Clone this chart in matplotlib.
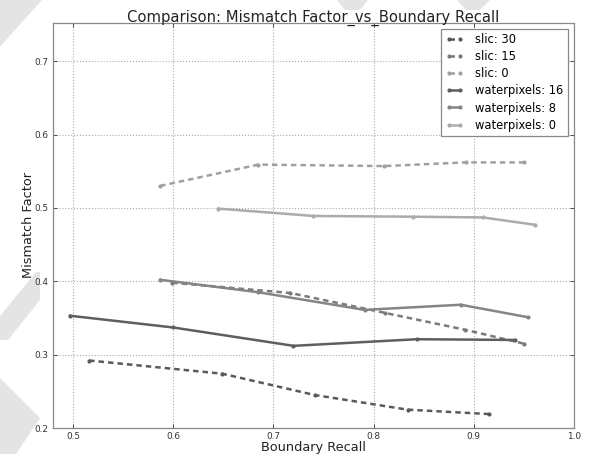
import matplotlib
matplotlib.use("Agg")
import matplotlib.pyplot as plt
from matplotlib.patches import Polygon

# Data
slic30_x = [0.516, 0.649, 0.741, 0.834, 0.915]
slic30_y = [0.292, 0.274, 0.245, 0.225, 0.219]
slic15_x = [0.599, 0.717, 0.811, 0.891, 0.950]
slic15_y = [0.398, 0.384, 0.357, 0.334, 0.315]
slic0_x = [0.587, 0.685, 0.810, 0.892, 0.950]
slic0_y = [0.530, 0.559, 0.557, 0.562, 0.562]
wp16_x = [0.497, 0.600, 0.720, 0.843, 0.941]
wp16_y = [0.353, 0.337, 0.312, 0.321, 0.320]
wp8_x = [0.587, 0.685, 0.791, 0.887, 0.954]
wp8_y = [0.402, 0.385, 0.361, 0.368, 0.351]
wp0_x = [0.645, 0.740, 0.839, 0.909, 0.961]
wp0_y = [0.499, 0.489, 0.488, 0.487, 0.477]

labels = ["slic: 30", "slic: 15", "slic: 0", "waterpixels: 16", "waterpixels: 8", "waterpixels: 0"]
xs = [slic30_x, slic15_x, slic0_x, wp16_x, wp8_x, wp0_x]
ys = [slic30_y, slic15_y, slic0_y, wp16_y, wp8_y, wp0_y]
colors = ["#595959", "#7a7a7a", "#a0a0a0", "#5e5e5e", "#858585", "#ababab"]
styles = ["--", "--", "--", "-", "-", "-"]

W, H = 591, 454
fig = plt.figure(figsize=(W / 100, H / 100), dpi=100, facecolor="white")

# light watermark shapes in the background
def px_poly(pts):
    return Polygon([(x / W, 1 - y / H) for x, y in pts], closed=True,
                   transform=fig.transFigure, facecolor="#e4e4e4", edgecolor="none", zorder=0)

for pts in [
    [(0, 0), (42, 0), (22, 22), (0, 47)],
    [(36, 272), (40, 272), (40, 300), (8, 340), (0, 340), (0, 316)],
    [(0, 378), (40, 418), (16, 454), (0, 454)],
    [(337, 0), (368, 0), (360, 10), (345, 10)],
    [(457, 0), (490, 0), (480, 10), (466, 10)],
]:
    fig.patches.append(px_poly(pts))

ax = fig.add_axes([53 / W, 1 - 428 / H, (574 - 53) / W, (428 - 23) / H])
ax.set_zorder(2)
ax.set_facecolor("white")

for x, y, c, s, lab in zip(xs, ys, colors, styles, labels):
    line, = ax.plot(x, y, linestyle=s, color=c, linewidth=1.8, marker=".", markersize=4, label=lab)
    if s == "--":
        line.set_dashes((2.2, 1.6))

ax.set_xlim(0.48, 1.0)
ax.set_ylim(0.2, 0.752)
ax.set_xticks([0.5, 0.6, 0.7, 0.8, 0.9, 1.0])
ax.set_yticks([0.2, 0.3, 0.4, 0.5, 0.6, 0.7])
ax.grid(True, linestyle=":", color="#aaaaaa", linewidth=0.8)
ax.tick_params(direction="in", top=True, right=True, labelsize=6.4, colors="#333333",
               length=3, width=0.6, pad=3)
for sp in ax.spines.values():
    sp.set_color("#888888")
    sp.set_linewidth(0.9)

ax.set_xlabel("Boundary Recall", fontsize=9.3, color="#222222", labelpad=0)
ax.set_ylabel("Mismatch Factor", fontsize=9.3, color="#222222", labelpad=0)
ax.set_title("Comparison: Mismatch Factor_vs_Boundary Recall", fontsize=10.6, color="#222222", pad=1)

leg = ax.legend(loc="upper right", fontsize=8.3, handlelength=1.6, handletextpad=1.0, numpoints=2,
                fancybox=False, framealpha=1, edgecolor="#888888", borderaxespad=0.5,
                labelspacing=0.35)
leg.get_frame().set_linewidth(0.9)

fig.savefig("out.png", dpi=100, facecolor="white")
